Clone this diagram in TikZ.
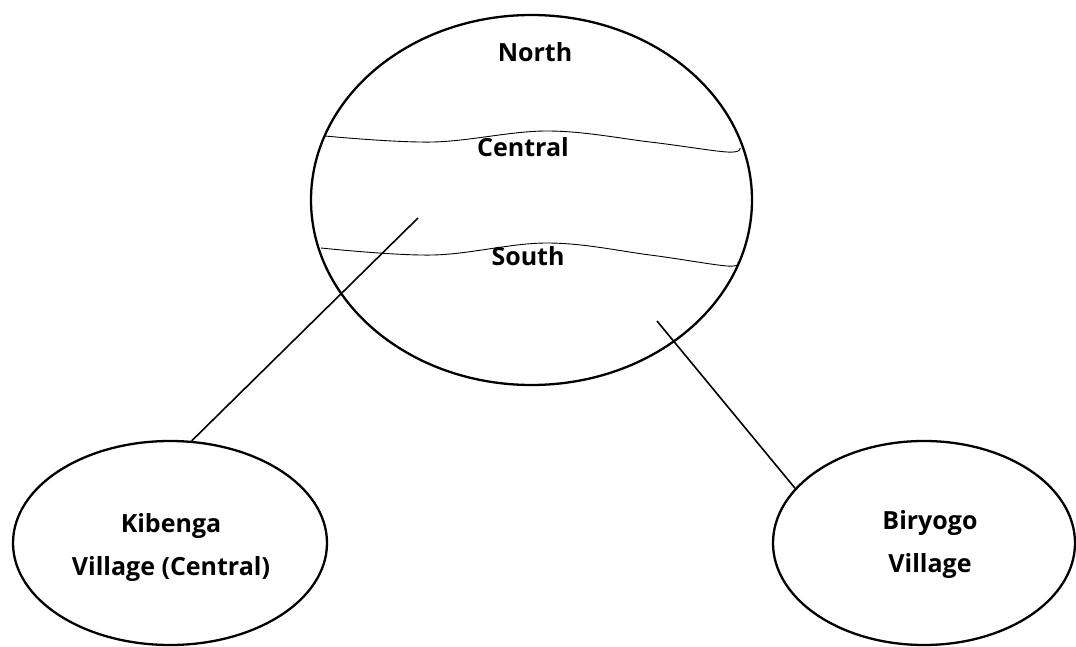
\documentclass[tikz,border=0pt]{standalone}
\usepackage{fontspec}
\setmainfont{Open Sans}
\usetikzlibrary{shapes.geometric}
\begin{document}
\begin{tikzpicture}[x=1pt,y=-1pt,
  region/.style={draw,ellipse,line width=2.3pt,inner sep=0pt},
  lbl/.style={font=\fontsize{25}{43}\selectfont\bfseries,align=center},
  wave/.style={line width=0.9pt},
  conn/.style={line width=1.6pt}]
\useasboundingbox (0,0) rectangle (1076,647);
\node[region,minimum width=441pt,minimum height=370pt] (parish) at (531.5,200) {};
\node[region,minimum width=314pt,minimum height=204pt] (kib) at (170,543) {};
\node[region,minimum width=302pt,minimum height=204pt] (bir) at (924,543) {};
\draw[wave] plot[smooth,tension=0.6] coordinates {(325,136) (433,142) (547,131) (650,142) (727,152) (740,148)};
\draw[wave] plot[smooth,tension=0.6] coordinates {(321,248) (433,255) (547,243) (650,255) (727,266) (738,262)};
\node[lbl] (north) at (535,52) {North};
\node[lbl] (central) at (523,147) {Central};
\node[lbl] (south) at (528,256) {South};
\node[lbl] (kibtxt) at (171,548) {Kibenga\\Village (Central)};
\node[lbl] (birtxt) at (930,545) {Biryogo\\Village};
\coordinate (c1) at (418,218);
\coordinate (c2) at (657,321);
\draw[conn] (c1) -- (kib.78);
\draw[conn] (c2) -- (bir.157);
\end{tikzpicture}
\end{document}
